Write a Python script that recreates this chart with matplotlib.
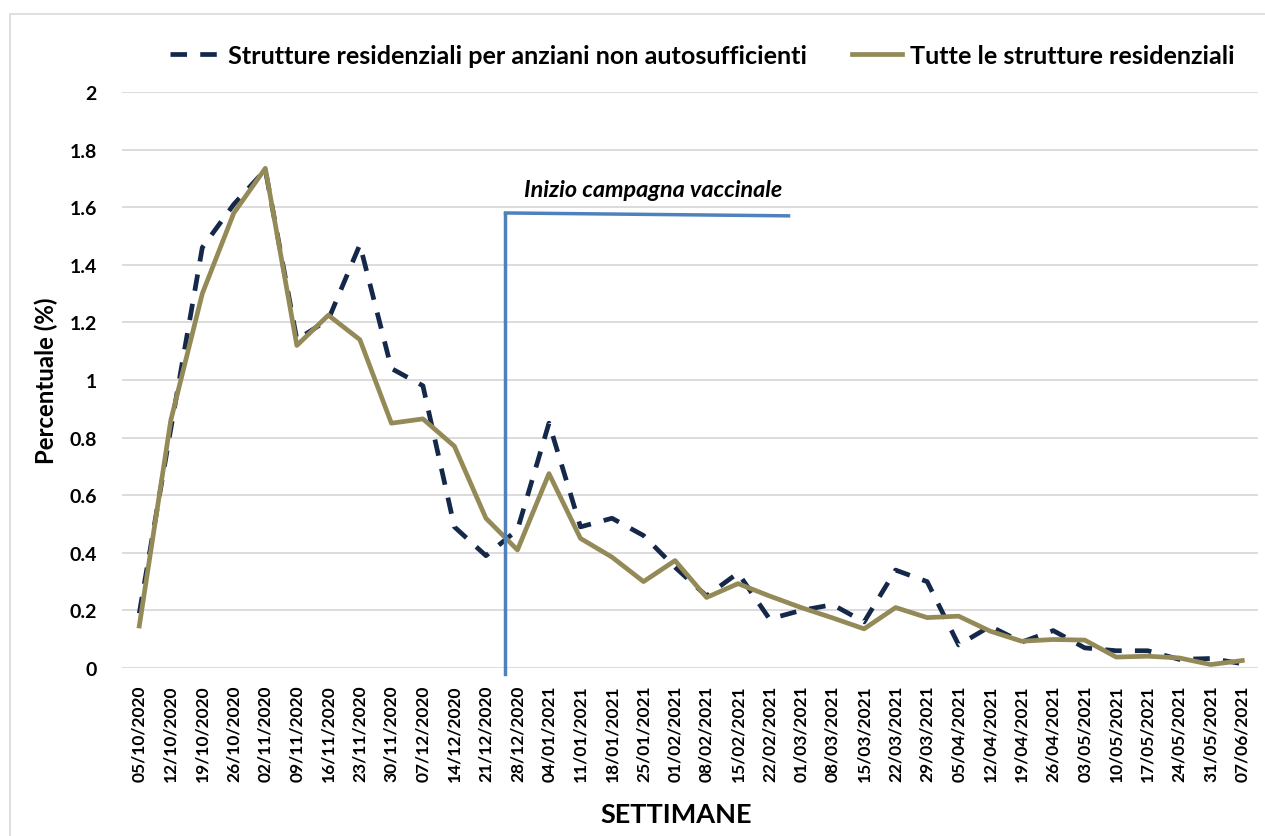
import numpy as np
import matplotlib
matplotlib.use('Agg')
import matplotlib.pyplot as plt
from matplotlib.lines import Line2D
from matplotlib.patches import Rectangle

plt.rcParams['font.family'] = ['Lato', 'DejaVu Sans']
plt.rcParams['font.weight'] = 'bold'
plt.rcParams['axes.labelweight'] = 'bold'

# settimane (lunedì di ogni settimana)
settimane = ['05/10/2020', '12/10/2020', '19/10/2020', '26/10/2020', '02/11/2020',
             '09/11/2020', '16/11/2020', '23/11/2020', '30/11/2020', '07/12/2020',
             '14/12/2020', '21/12/2020', '28/12/2020', '04/01/2021', '11/01/2021',
             '18/01/2021', '25/01/2021', '01/02/2021', '08/02/2021', '15/02/2021',
             '22/02/2021', '01/03/2021', '08/03/2021', '15/03/2021', '22/03/2021',
             '29/03/2021', '05/04/2021', '12/04/2021', '19/04/2021', '26/04/2021',
             '03/05/2021', '10/05/2021', '17/05/2021', '24/05/2021', '31/05/2021',
             '07/06/2021']

# strutture residenziali per anziani non autosufficienti (%)
anziani = [0.19, 0.83, 1.46, 1.61, 1.73, 1.14, 1.21, 1.47, 1.04, 0.98,
           0.49, 0.39, 0.48, 0.85, 0.49, 0.52, 0.46, 0.35, 0.25, 0.33,
           0.17, 0.20, 0.22, 0.16, 0.34, 0.30, 0.08, 0.145, 0.09, 0.13,
           0.07, 0.06, 0.06, 0.03, 0.033, 0.015]

# tutte le strutture residenziali (%)
tutte = [0.146, 0.86, 1.30, 1.58, 1.735, 1.12, 1.225, 1.14, 0.85, 0.865,
         0.77, 0.52, 0.41, 0.675, 0.45, 0.385, 0.30, 0.373, 0.245, 0.293,
         0.25, 0.21, 0.174, 0.136, 0.21, 0.175, 0.18, 0.128, 0.093, 0.099,
         0.097, 0.038, 0.041, 0.035, 0.012, 0.026]

# inizio campagna vaccinale (posizione tra 21/12 e 28/12)
x_vaccino = 11.62
x_fine_freccia = 20.6
y_freccia = 1.575

col_anziani = '#14284a'
col_tutte = '#948a58'
col_vacc = '#4f81bd'

fig = plt.figure(figsize=(12.65, 8.37), dpi=100)
ax = fig.add_axes([0.0964, 0.2007, 0.8981, 0.6882])

x = np.arange(len(settimane))
ax.plot(x, anziani, color=col_anziani, lw=3.4, dashes=(3.5, 2.8), zorder=3)
ax.plot(x, tutte, color=col_tutte, lw=3.4, zorder=4)

# linea della campagna vaccinale
ax.plot([x_vaccino, x_vaccino], [-0.02, y_freccia], color=col_vacc, lw=2.5,
        clip_on=False, zorder=5)
ax.plot([x_vaccino, x_fine_freccia], [y_freccia + 0.005, y_freccia - 0.005],
        color=col_vacc, lw=2.5, zorder=5)
ax.text((x_vaccino + x_fine_freccia) / 2 + 0.2, y_freccia + 0.05, 'Inizio campagna vaccinale',
        ha='center', va='bottom', fontsize=16.8, fontstyle='italic', fontweight='bold')

ax.set_xlim(-0.55, 35.5)
ax.set_ylim(0, 2)
ax.set_yticks(np.arange(0, 2.01, 0.2))
ax.set_yticklabels(['0', '0.2', '0.4', '0.6', '0.8', '1', '1.2', '1.4', '1.6', '1.8', '2'])
ax.set_xticks(x)
ax.set_xticklabels(settimane, rotation=90)
ax.tick_params(axis='both', length=0, labelsize=12.5)
ax.tick_params(axis='y', pad=18, labelsize=14)
ax.tick_params(axis='x', pad=12)
ax.grid(axis='y', color='#d9d9d9', lw=1.3)
ax.set_axisbelow(True)
for s in ax.spines.values():
    s.set_visible(False)

ax.set_ylabel('Percentuale (%)', fontsize=17.3, labelpad=8)
ax.set_xlabel('SETTIMANE', fontsize=19.5)
ax.xaxis.set_label_coords(0.488, -0.232)

fig.legend(handles=[Line2D([], [], color=col_anziani, lw=3.4, dashes=(3.5, 2.8)),
                    Line2D([], [], color=col_tutte, lw=3.4)],
           labels=['Strutture residenziali per anziani non autosufficienti',
                   'Tutte le strutture residenziali'],
           loc='center', bbox_to_anchor=(0.555, 0.933), ncol=2, frameon=False,
           fontsize=18.1, handlelength=2.0, handletextpad=0.3, columnspacing=1.8)

# cornice del grafico
fig.patches.append(Rectangle((0.008, -0.01), 1.2, 0.9915, transform=fig.transFigure,
                             fill=False, edgecolor='#d9d9d9', lw=1.2))

fig.savefig('out.png', dpi=100)
